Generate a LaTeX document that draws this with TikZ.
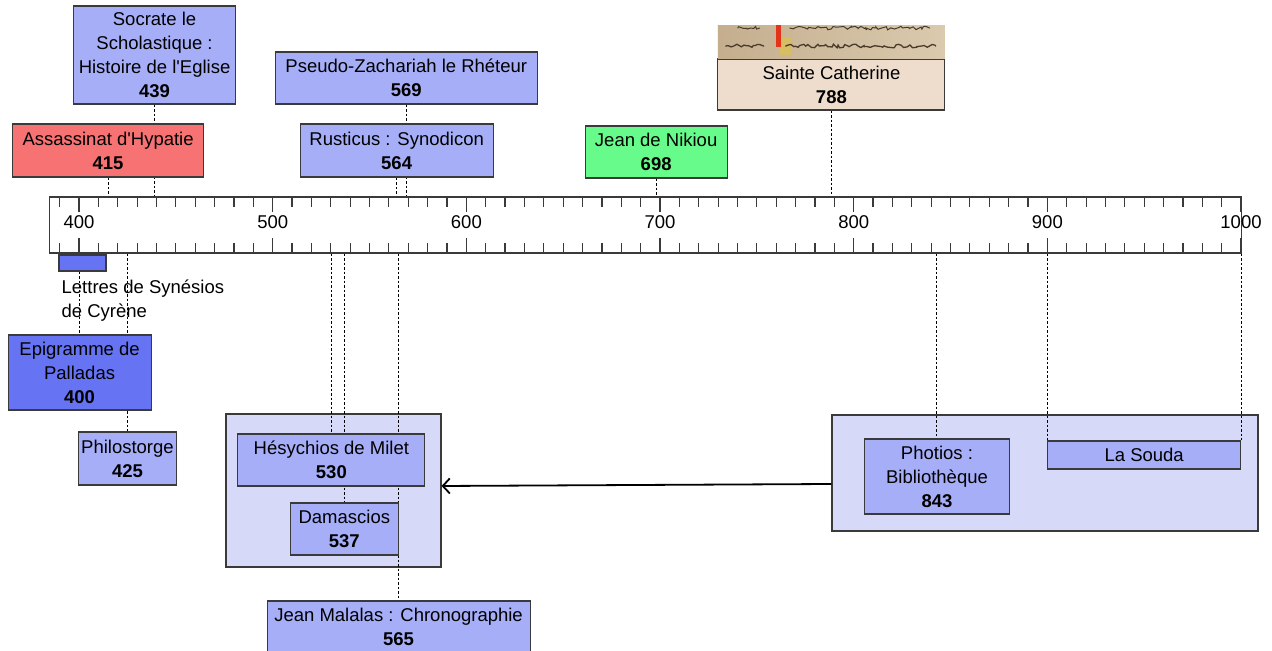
\documentclass[tikz,border=0pt]{standalone}
\usepackage{fontspec}
\setmainfont{Liberation Sans}
\usetikzlibrary{arrows.meta,decorations.pathmorphing}
\definecolor{lav}{HTML}{A6AEF8}
\definecolor{dblue}{HTML}{6674F4}
\definecolor{rouge}{HTML}{F77272}
\definecolor{vert}{HTML}{66FB8A}
\definecolor{beige}{HTML}{EEDDCC}
\definecolor{grp}{HTML}{D6D9F8}
\definecolor{bord}{HTML}{3A3A3A}
\definecolor{parchA}{HTML}{C4AE8E}
\definecolor{parchB}{HTML}{DACAAE}
\definecolor{ink}{HTML}{4A3A2A}
\pgfdeclarelayer{back}
\pgfdeclarelayer{mid}
\pgfsetlayers{back,mid,main}
\begin{document}
\begin{tikzpicture}[x=1.9367pt,y=-1pt,
  every node/.style={font=\fontsize{18.5pt}{24pt}\selectfont,inner sep=2pt,align=center},
  event/.style={draw=bord,line width=1.1pt,fill=lav},
  group/.style={draw=bord,line width=1.1pt,fill=grp},
  link/.style={dash pattern=on 2.5pt off 2pt,line width=1pt}]
  \useasboundingbox (359.2,0) rectangle (1016,651);
  \begin{pgfonlayer}{back}
    \fill[white] (359.2,0) rectangle (1016,651);
    \node[group,minimum width=215pt,minimum height=153pt] (gl) at (531.4,490.5) {};
    \node[group,minimum width=426pt,minimum height=116pt] (gr) at (898.8,473) {};
  \end{pgfonlayer}
  % timeline
  \node[draw=bord,line width=1.2pt,fill=white,minimum width=1192pt,minimum height=56pt,inner sep=0] (tl) at (692.7,225) {};
  \foreach \d in {390,400,...,1000} {
    \draw[bord,line width=1.2pt] (\d,198) -- ++(0,9);
    \draw[bord,line width=1.2pt] (\d,252) -- ++(0,-9);
  }
  \foreach \d in {400,500,...,1000} {
    \draw[bord,line width=1.2pt] (\d,198) -- ++(0,14);
    \draw[bord,line width=1.2pt] (\d,252) -- ++(0,-14);
    \node (y\d) at (\d,222) {\d};
  }
  % above the line
  \node[event,minimum width=162pt,minimum height=98pt] (soc) at (439,55) {Socrate le\\Scholastique :\\Histoire de l\textquotesingle Eglise\\\textbf{439}};
  \node[event,fill=rouge,minimum width=191pt,minimum height=53pt] (hyp) at (415,150.5) {Assassinat d\textquotesingle Hypatie\\\textbf{415}};
  \node[event,minimum width=262pt,minimum height=52pt] (pse) at (569,78) {Pseudo-Zachariah le Rhéteur\\\textbf{569}};
  \node[event,minimum width=193pt,minimum height=53pt] (rus) at (564,150.5) {Rusticus : Synodicon\\\textbf{564}};
  \node[event,fill=vert,minimum width=142pt,minimum height=52pt] (nik) at (698,152) {Jean de Nikiou\\\textbf{698}};
  \node[event,fill=beige,minimum width=227pt,minimum height=51pt] (cat) at (788.5,84.5) {Sainte Catherine\\\textbf{788}};
  \node[minimum width=227pt,minimum height=33pt,inner sep=0,anchor=south,left color=parchA,right color=parchB] (img) at (cat.north) {};
  \fill[yellow!55!brown,opacity=.5] ([xshift=62pt,yshift=-12pt]img.north west) rectangle ++(11pt,-18pt);
  \fill[red!60!brown] ([xshift=58pt]img.north west) rectangle ++(5pt,-22pt);
  \pgfmathsetseed{7}
  \begin{scope}[ink,line width=1.3pt,line cap=round,decoration={random steps,segment length=2.5pt,amplitude=1.8pt}]
    \draw[decorate] ([xshift=8pt,yshift=-21pt]img.north west) -- ++(38pt,0pt);
    \draw[decorate] ([xshift=68pt,yshift=-21pt]img.north west) -- ++(150pt,0pt);
    \draw[decorate,line width=1pt] ([xshift=72pt,yshift=-3pt]img.north west) -- ++(140pt,0pt);
    \draw[decorate,line width=1pt] ([xshift=20pt,yshift=-3pt]img.north west) -- ++(22pt,0pt);
  \end{scope}
  % below the line
  \node[draw=bord,line width=1.1pt,fill=dblue,minimum width=47pt,minimum height=16pt,inner sep=0] (syn) at (401.8,263) {};
  \node[anchor=north west,align=left,inner sep=0] (synt) at ([xshift=3pt,yshift=-8pt]syn.south west) {Lettres de Synésios\\de Cyrène};
  \node[event,fill=dblue,minimum width=143pt,minimum height=75pt] (epi) at (400.3,372.5) {Epigramme de\\Palladas\\\textbf{400}};
  \node[event,minimum width=98pt,minimum height=53pt] (phi) at (425,458.5) {Philostorge\\\textbf{425}};
  \node[event,minimum width=187pt,minimum height=52pt] (hes) at (530.3,460) {Hésychios de Milet\\\textbf{530}};
  \node[event,minimum width=108pt,minimum height=52pt] (dam) at (537,529) {Damascios\\\textbf{537}};
  \node[event,minimum width=263pt,minimum height=52pt] (mal) at (565,627) {Jean Malalas : Chronographie\\\textbf{565}};
  \node[event,minimum width=145pt,minimum height=75pt] (pho) at (843,476.5) {Photios :\\Bibliothèque\\\textbf{843}};
  \node[event,minimum width=193pt,minimum height=28pt] (sou) at (950,455) {La Souda};
  \begin{pgfonlayer}{mid}
    \draw[link] (soc.south) -- (soc.south |- tl.north);
    \draw[link] (hyp.south) -- (hyp.south |- tl.north);
    \draw[link] (pse.south) -- (pse.south |- tl.north);
    \draw[link] (rus.south) -- (rus.south |- tl.north);
    \draw[link] (nik.south) -- (nik.south |- tl.north);
    \draw[link] (cat.south) -- (cat.south |- tl.north);
    \draw[link] (epi.north |- tl.south) -- (epi.north);
    \draw[link] (phi.north |- tl.south) -- (phi.north);
    \draw[link] (hes.north |- tl.south) -- (hes.north);
    \draw[link] (dam.north |- tl.south) -- (dam.north);
    \draw[link] (mal.north |- tl.south) -- (mal.north);
    \draw[link] (pho.north |- tl.south) -- (pho.north);
    \draw[link] (sou.north west |- tl.south) -- (sou.north west);
    \draw[link] (sou.north east |- tl.south) -- (sou.north east);
  \end{pgfonlayer}
  \draw[-{Straight Barb[length=7pt,width=15pt]},line width=1.8pt] ([yshift=-11pt]gr.west) -- ([yshift=4.5pt]gl.east);
\end{tikzpicture}
\end{document}
